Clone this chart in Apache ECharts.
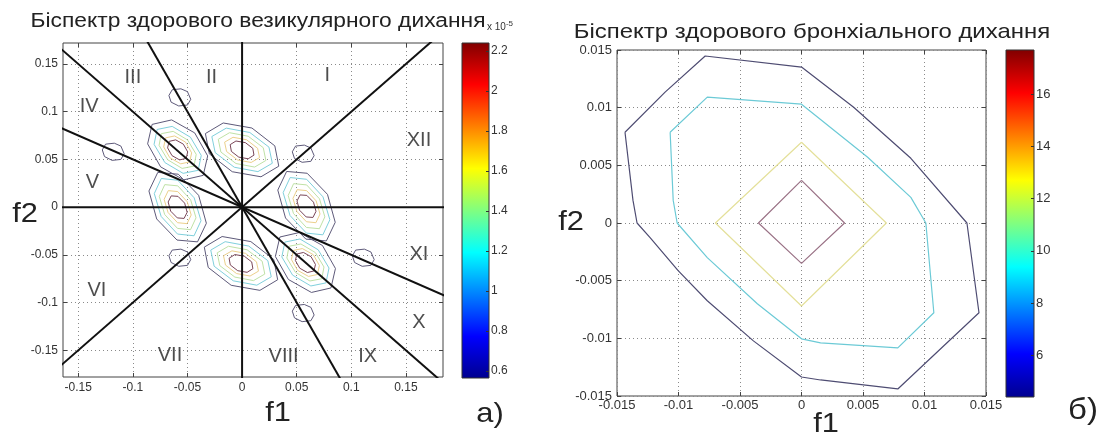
<!DOCTYPE html>
<html><head><meta charset="utf-8">
<script src="https://cdn.jsdelivr.net/npm/echarts@6/dist/echarts.min.js"></script>
<style>html,body{margin:0;padding:0;background:#fff}#c{width:1105px;height:439px}</style>
</head><body><div id="c"></div>
<script>
// ---------- data ----------
const vesXRange = [-0.164, 0.184];
const vesYRange = [-0.178, 0.172];
const vesXTicks = [-0.15, -0.1, -0.05, 0, 0.05, 0.1, 0.15];
const vesYTicks = [-0.15, -0.1, -0.05, 0, 0.05, 0.1, 0.15];
const vesCbRange = [0.565, 2.24];
const vesCbTicks = [0.6, 0.8, 1, 1.2, 1.4, 1.6, 1.8, 2, 2.2];

const broRange = [-0.015, 0.015];
const broCbRange = [4.4, 17.7];
const broCbTicks = [6, 8, 10, 12, 14, 16];

// sector boundary lines through the origin (end points in data units)
const sectorLines = [
  [[-0.2, 0], [0.2, 0]],
  [[0, -0.2], [0, 0.2]],
  [[-0.2, -0.2], [0.2, 0.2]],
  [[-0.2, 0.2], [0.2, -0.2]],
  [[-0.1, 0.2], [0.1, -0.2]],
  [[-0.4, 0.2], [0.4, -0.2]]
];
const sectorLabels = [
  ['I', 0.078, 0.138], ['II', -0.028, 0.136], ['III', -0.10, 0.136], ['IV', -0.14, 0.105],
  ['V', -0.137, 0.026], ['VI', -0.133, -0.087], ['VII', -0.066, -0.155], ['VIII', 0.038, -0.157],
  ['IX', 0.115, -0.157], ['X', 0.162, -0.121], ['XI', 0.162, -0.05], ['XII', 0.162, 0.07]
];

// contour rings of the peaks (offsets from each peak centre), outer -> inner
const diagRings = [
  [[0.0234,-0.0267],[0.0275,-0.0063],[0.0156,0.0178],[-0.0055,0.0314],[-0.0234,0.0267],[-0.0275,0.0063],[-0.0156,-0.0178],[0.0055,-0.0314]],
  [[0.0188,-0.0214],[0.0216,-0.0058],[0.0117,0.0133],[-0.0050,0.0246],[-0.0188,0.0214],[-0.0216,0.0058],[-0.0117,-0.0133],[0.0050,-0.0246]],
  [[0.0150,-0.0170],[0.0170,-0.0047],[0.0091,0.0104],[-0.0041,0.0194],[-0.0150,0.0170],[-0.0170,0.0047],[-0.0091,-0.0104],[0.0041,-0.0194]],
  [[0.0110,-0.0126],[0.0128,-0.0031],[0.0072,0.0082],[-0.0028,0.0146],[-0.0110,0.0126],[-0.0128,0.0031],[-0.0072,-0.0082],[0.0028,-0.0146]],
  [[0.0078,-0.0089],[0.0092,-0.0021],[0.0052,0.0060],[-0.0018,0.0105],[-0.0078,0.0089],[-0.0092,0.0021],[-0.0052,-0.0060],[0.0018,-0.0105]]
];
const horizRings = [
  [[0.0336,-0.0171],[0.0300,0.0042],[0.0090,0.0229],[-0.0173,0.0282],[-0.0336,0.0171],[-0.0300,-0.0042],[-0.0090,-0.0229],[0.0173,-0.0282]],
  [[0.0277,-0.0140],[0.0246,0.0029],[0.0071,0.0182],[-0.0145,0.0228],[-0.0277,0.0140],[-0.0246,-0.0029],[-0.0071,-0.0182],[0.0145,-0.0228]],
  [[0.0218,-0.0111],[0.0194,0.0023],[0.0056,0.0143],[-0.0115,0.0180],[-0.0218,0.0111],[-0.0194,-0.0023],[-0.0056,-0.0143],[0.0115,-0.0180]],
  [[0.0160,-0.0081],[0.0142,0.0017],[0.0041,0.0106],[-0.0083,0.0132],[-0.0160,0.0081],[-0.0142,-0.0017],[-0.0041,-0.0106],[0.0083,-0.0132]],
  [[0.0109,-0.0055],[0.0098,0.0016],[0.0030,0.0076],[-0.0056,0.0093],[-0.0109,0.0055],[-0.0098,-0.0016],[-0.0030,-0.0076],[0.0056,-0.0093]]
];
const vertRings = [
  [[0.0182,-0.0364],[0.0263,-0.0169],[0.0192,0.0124],[0.0006,0.0345],[-0.0182,0.0364],[-0.0263,0.0169],[-0.0192,-0.0124],[-0.0006,-0.0345]],
  [[0.0150,-0.0300],[0.0214,-0.0142],[0.0151,0.0098],[0.0001,0.0282],[-0.0150,0.0300],[-0.0214,0.0142],[-0.0151,-0.0098],[-0.0001,-0.0282]],
  [[0.0118,-0.0236],[0.0168,-0.0112],[0.0119,0.0077],[0.0001,0.0223],[-0.0118,0.0236],[-0.0168,0.0112],[-0.0119,-0.0077],[-0.0001,-0.0223]],
  [[0.0086,-0.0173],[0.0124,-0.0082],[0.0088,0.0056],[0.0001,0.0163],[-0.0086,0.0173],[-0.0124,0.0082],[-0.0088,-0.0056],[-0.0001,-0.0163]],
  [[0.0059,-0.0118],[0.0087,-0.0054],[0.0064,0.0042],[0.0003,0.0113],[-0.0059,0.0118],[-0.0087,0.0054],[-0.0064,-0.0042],[-0.0003,-0.0113]]
];
const diagCenters = [[-0.059, 0.060], [0.058, -0.058]];
const horizCenters = [[0.0, 0.060], [-0.001, -0.059]];
const vertCenters = [[0.059, 0.001], [-0.059, 0.0]];
const islandCenters = [[-0.057,0.115],[-0.118,0.058],[0.056,0.056],[-0.057,-0.053],[0.111,-0.053],[0.056,-0.111]];
const islandRing = [[-0.010,0.002],[-0.007,0.008],[0.001,0.009],[0.007,0.006],[0.010,-0.002],[0.007,-0.008],[-0.001,-0.009],[-0.008,-0.005]];
const vesRingColors = ['#5e5a7a', '#80d0dc', '#bfe2a6', '#ecd08c', '#7a4658'];

// bronchial breathing contours (absolute data units)
const broOuter = [[-0.01435,0.00787],[-0.01109,0.01135],[-0.00783,0.01448],[0,0.01352],[0.00424,0.01004],[0.00889,0.00561],[0.01345,0],[0.01443,-0.00778],[0.00783,-0.01439],[0.00155,-0.01361],[0,-0.01335],[-0.00391,-0.01022],[-0.00766,-0.00674],[-0.01003,-0.00413],[-0.01231,-0.00126],[-0.01337,0],[-0.0137,0.00196]];
const broCyan = [[-0.01068,0.00787],[-0.00766,0.01091],[0,0.0103],[0.00538,0.0057],[0.00889,0.00222],[0.01011,0],[0.01076,-0.00778],[0.00783,-0.01083],[0.00155,-0.01039],[0,-0.01004],[-0.00359,-0.007],[-0.00766,-0.003],[-0.01011,0],[-0.01043,0.00196]];
const broYellow = [[0,0.007],[0.0069,0],[0,-0.0072],[-0.007,0]];
const broInner = [[0,0.0037],[0.0035,0],[0,-0.0035],[-0.0035,0]];
const broColors = ['#4e4c72', '#6ccad6', '#e4e09a', '#9a7286'];

// ---------- chart ----------
const FONT = "'Liberation Sans', Arial, sans-serif";
const jetStops = [
  {offset: 0, color: '#800000'}, {offset: 0.125, color: '#ff0000'},
  {offset: 0.375, color: '#ffff00'}, {offset: 0.5, color: '#80ff80'},
  {offset: 0.625, color: '#00ffff'}, {offset: 0.875, color: '#0000ff'},
  {offset: 1, color: '#00008f'}
];
const fmt = v => String(Math.round(v * 1e6) / 1e6);

const series = [];
function addRing(pts, color, xi, yi, w, z) {
  series.push({type: 'line', xAxisIndex: xi, yAxisIndex: yi, data: pts.concat([pts[0]]),
    symbol: 'none', smooth: false, lineStyle: {color: color, width: w || 1},
    silent: true, z: z || 2, animation: false});
}
[[diagRings, diagCenters], [horizRings, horizCenters], [vertRings, vertCenters]].forEach(g => {
  g[1].forEach(c => g[0].forEach((ring, k) => {
    addRing(ring.map(p => [c[0] + p[0], c[1] + p[1]]), vesRingColors[k], 0, 0);
  }));
});
islandCenters.forEach(c => addRing(islandRing.map(p => [c[0] + p[0], c[1] + p[1]]), vesRingColors[0], 0, 0));
sectorLines.forEach(l => series.push({type: 'line', xAxisIndex: 0, yAxisIndex: 0, data: l,
  symbol: 'none', lineStyle: {color: '#111', width: 2}, z: 5, silent: true, animation: false}));
series.push({type: 'scatter', xAxisIndex: 0, yAxisIndex: 0, symbolSize: 1,
  itemStyle: {color: 'rgba(0,0,0,0)'}, silent: true, z: 6, animation: false,
  data: sectorLabels.map(s => ({name: s[0], value: [s[1], s[2]]})),
  label: {show: true, position: 'inside', formatter: '{b}', color: '#222', fontSize: 20, fontFamily: FONT}});

[broOuter, broCyan, broYellow, broInner].forEach((r, k) => addRing(r, broColors[k], 3, 3, 1.2));

function colorbar(xi, yi, range) {
  return {type: 'custom', xAxisIndex: xi, yAxisIndex: yi, silent: true, animation: false, z: 2,
    data: [[0, range[0], 1, range[1]]],
    renderItem: (params, api) => {
      const p0 = api.coord([api.value(0), api.value(1)]);
      const p1 = api.coord([api.value(2), api.value(3)]);
      return {type: 'rect', shape: {x: p0[0], y: p1[1], width: p1[0] - p0[0], height: p0[1] - p1[1]},
        style: {fill: new echarts.graphic.LinearGradient(0, 0, 0, 1, jetStops), stroke: '#333', lineWidth: 1}};
    }};
}
series.push(colorbar(2, 2, vesCbRange));
series.push(colorbar(5, 5, broCbRange));

const lab = {color: '#333', fontSize: 12, fontFamily: FONT};
const split = {show: true, lineStyle: {color: '#8a8a8a', type: [1, 3], width: 1}};
const tick = {inside: true, length: 4, lineStyle: {color: '#444'}};
const noLine = {show: false, onZero: false};

const option = {
  backgroundColor: '#fff',
  animation: false,
  grid: [
    {left: 63, top: 43, width: 380, height: 334, show: true, borderColor: '#444', borderWidth: 1, backgroundColor: '#fff'},
    {left: 462, top: 43, width: 27, height: 335, show: false},
    {left: 617, top: 50, width: 369, height: 346, show: true, borderColor: '#444', borderWidth: 1, backgroundColor: '#fff'},
    {left: 1006, top: 50, width: 28, height: 347, show: false}
  ],
  xAxis: [
    {gridIndex: 0, type: 'value', min: vesXRange[0], max: vesXRange[1], axisLine: noLine,
      axisTick: Object.assign({customValues: vesXTicks}, tick),
      axisLabel: Object.assign({customValues: vesXTicks, margin: 5, formatter: fmt}, lab), splitLine: split},
    {gridIndex: 0, type: 'value', position: 'top', min: vesXRange[0], max: vesXRange[1], axisLine: noLine,
      axisTick: Object.assign({customValues: vesXTicks}, tick), axisLabel: {show: false}, splitLine: {show: false}},
    {gridIndex: 1, type: 'value', min: 0, max: 1, show: false, axisLine: noLine},
    {gridIndex: 2, type: 'value', min: broRange[0], max: broRange[1], interval: 0.005, axisLine: noLine,
      axisTick: tick, axisLabel: Object.assign({margin: 3, formatter: fmt}, lab, {fontSize: 13}), splitLine: split},
    {gridIndex: 2, type: 'value', position: 'top', min: broRange[0], max: broRange[1], interval: 0.005, axisLine: noLine,
      axisTick: tick, axisLabel: {show: false}, splitLine: {show: false}},
    {gridIndex: 3, type: 'value', min: 0, max: 1, show: false, axisLine: noLine}
  ],
  yAxis: [
    {gridIndex: 0, type: 'value', min: vesYRange[0], max: vesYRange[1], axisLine: noLine,
      axisTick: Object.assign({customValues: vesYTicks}, tick),
      axisLabel: Object.assign({customValues: vesYTicks, margin: 5, formatter: fmt}, lab), splitLine: split},
    {gridIndex: 0, type: 'value', position: 'right', min: vesYRange[0], max: vesYRange[1], axisLine: noLine,
      axisTick: Object.assign({customValues: vesYTicks}, tick), axisLabel: {show: false}, splitLine: {show: false}},
    {gridIndex: 1, type: 'value', position: 'right', min: vesCbRange[0], max: vesCbRange[1], z: 10,
      axisLine: noLine, splitLine: {show: false},
      axisTick: {inside: true, length: 3, customValues: vesCbTicks, lineStyle: {color: '#333'}},
      axisLabel: Object.assign({customValues: vesCbTicks, margin: 2, formatter: fmt}, lab)},
    {gridIndex: 2, type: 'value', min: broRange[0], max: broRange[1], interval: 0.005, axisLine: noLine,
      axisTick: tick, axisLabel: Object.assign({margin: 5, formatter: fmt}, lab, {fontSize: 13}), splitLine: split},
    {gridIndex: 2, type: 'value', position: 'right', min: broRange[0], max: broRange[1], interval: 0.005, axisLine: noLine,
      axisTick: tick, axisLabel: {show: false}, splitLine: {show: false}},
    {gridIndex: 3, type: 'value', position: 'right', min: broCbRange[0], max: broCbRange[1], z: 10,
      axisLine: noLine, splitLine: {show: false},
      axisTick: {inside: true, length: 3, customValues: broCbTicks, lineStyle: {color: '#333'}},
      axisLabel: Object.assign({customValues: broCbTicks, margin: 2, formatter: fmt}, lab, {fontSize: 13})}
  ],
  graphic: [
    {type: 'text', x: 258, y: 21, scaleX: 1.14, style: {text: 'Біспектр здорового везикулярного дихання', font: '20px ' + FONT, fill: '#222', align: 'center', verticalAlign: 'middle'}},
    {type: 'text', x: 487, y: 27, style: {text: '{a|x 10}{b|-5}', rich: {a: {fontSize: 10, fontFamily: FONT, fill: '#333'}, b: {fontSize: 8, fontFamily: FONT, fill: '#333', padding: [0, 0, 7, 0]}}, align: 'left', verticalAlign: 'middle'}},
    {type: 'text', x: 812, y: 32, scaleX: 1.14, style: {text: 'Біспектр здорового бронхіального дихання', font: '21px ' + FONT, fill: '#222', align: 'center', verticalAlign: 'middle'}},
    {type: 'text', x: 25, y: 214, scaleX: 1.1, style: {text: 'f2', font: '28px ' + FONT, fill: '#222', align: 'center', verticalAlign: 'middle'}},
    {type: 'text', x: 278, y: 413, scaleX: 1.1, style: {text: 'f1', font: '28px ' + FONT, fill: '#222', align: 'center', verticalAlign: 'middle'}},
    {type: 'text', x: 490, y: 414, scaleX: 1.1, style: {text: 'а)', font: '28px ' + FONT, fill: '#222', align: 'center', verticalAlign: 'middle'}},
    {type: 'text', x: 571, y: 222, scaleX: 1.1, style: {text: 'f2', font: '28px ' + FONT, fill: '#222', align: 'center', verticalAlign: 'middle'}},
    {type: 'text', x: 826, y: 424, scaleX: 1.1, style: {text: 'f1', font: '28px ' + FONT, fill: '#222', align: 'center', verticalAlign: 'middle'}},
    {type: 'text', x: 1083, y: 411, scaleX: 1.1, style: {text: 'б)', font: '30px ' + FONT, fill: '#222', align: 'center', verticalAlign: 'middle'}}
  ],
  series: series
};
const chart = echarts.init(document.getElementById('c'));
chart.setOption(option);
</script></body></html>
